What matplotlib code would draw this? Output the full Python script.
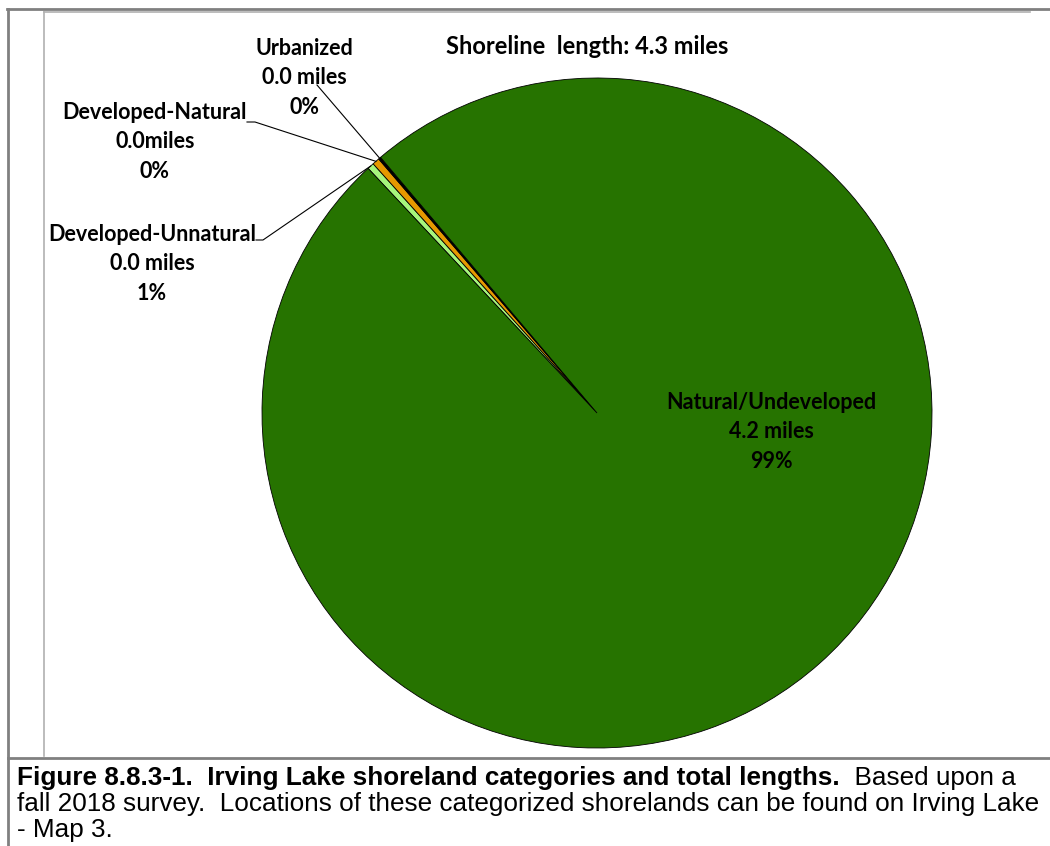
import matplotlib
matplotlib.use("Agg")
import matplotlib.pyplot as plt
from matplotlib.lines import Line2D
import numpy as np

# shoreline categories (clockwise order from the start angle)
categories = ["Developed-Unnatural", "Developed-Natural", "Urbanized", "Natural/Undeveloped"]
miles = [0.014, 0.015, 0.005, 4.27]
colors = ["#a6f57c", "#e69800", "#000000", "#267300"]
label_texts = {
    "Developed-Unnatural": "Developed-Unnatural\n0.0 miles\n1%",
    "Developed-Natural": "Developed-Natural\n0.0miles\n0%",
    "Urbanized": "Urbanized\n0.0 miles\n0%",
    "Natural/Undeveloped": "Natural/Undeveloped\n4.2 miles\n99%",
}
total_label = "Shoreline  length: 4.3 miles"
caption_bold = "Figure 8.8.3-1.  Irving Lake shoreland categories and total lengths."
caption_rest = "  Based upon a"
caption_lines = ["fall 2018 survey.  Locations of these categorized shorelands can be found on Irving Lake",
                 "- Map 3."]

W, H = 1050, 846
fig = plt.figure(figsize=(W / 100, H / 100), dpi=100)
fig.patch.set_facecolor("white")


def fx(x):
    return x / W


def fy(y):
    return 1 - y / H


# pie axes (square box in pixels)
cx, cy, r = 597, 413, 335
ax = fig.add_axes([fx(cx - r), fy(cy + r), 2 * r / W, 2 * r / H])
ax.axis("off")

start = 133.1
wedges, _ = ax.pie(miles, colors=colors, startangle=start, counterclock=False, radius=1,
                   wedgeprops=dict(edgecolor="black", linewidth=0.6))
ax.set_xlim(-1, 1)
ax.set_ylim(-1, 1)

lab_font = dict(family="Lato", weight="bold", size=15.5, color="black")

# label positions in pixels (text centre)
label_pos = {
    "Urbanized": (304, 78),
    "Developed-Natural": (155, 142),
    "Developed-Unnatural": (152, 264),
    "Natural/Undeveloped": (771, 432),
}
for cat, w in zip(categories, wedges):
    x, y = label_pos[cat]
    fig.text(fx(x), fy(y), label_texts[cat], ha="center", va="center",
             linespacing=1.5, **lab_font)


# leader lines to wedge edges
def edge_point(w):
    mid = np.deg2rad((w.theta1 + w.theta2) / 2)
    return np.cos(mid), np.sin(mid)


leaders = {
    "Urbanized": [(317, 85)],
    "Developed-Natural": [(247, 122), (255, 122)],
    "Developed-Unnatural": [(256, 240), (263, 240)],
}
for cat, w in zip(categories, wedges):
    if cat not in leaders:
        continue
    ex, ey = edge_point(w)
    px = cx + ex * r
    py = cy - ey * r
    pts = leaders[cat] + [(px, py)]
    fig.add_artist(Line2D([fx(p[0]) for p in pts], [fy(p[1]) for p in pts],
                          color="black", linewidth=0.8))

fig.text(fx(587), fy(47), total_label, ha="center", va="center",
         family="Lato", weight="bold", size=17)

# frame lines
frame_col = "#808080"
fig.add_artist(Line2D([fx(7), fx(W)], [fy(9), fy(9)], color=frame_col, linewidth=2))
fig.add_artist(Line2D([fx(8), fx(8)], [fy(9), fy(H)], color=frame_col, linewidth=2))
fig.add_artist(Line2D([fx(8), fx(W)], [fy(757.5), fy(757.5)], color=frame_col, linewidth=2))
fig.add_artist(Line2D([fx(43.5), fx(1030)], [fy(12), fy(12)], color="#b0b0b0", linewidth=1.2))
fig.add_artist(Line2D([fx(43.5), fx(43.5)], [fy(12), fy(756)], color="#b0b0b0", linewidth=1.2))

# caption: size the font so the second line spans the cell width as in the original
renderer = fig.canvas.get_renderer()
probe = fig.text(0, 0, caption_lines[0], family="Liberation Sans", size=10)
probe_w = probe.get_window_extent(renderer=renderer).width
probe.remove()
cap_size = 10 * 1026 / probe_w
cap_font = dict(family="Liberation Sans", size=cap_size, color="black")

t = fig.text(fx(17), fy(778), caption_bold, ha="left", va="center", weight="bold", **cap_font)
bb = t.get_window_extent(renderer=renderer)
fig.text(bb.x1 / W, fy(778), caption_rest, ha="left", va="center", **cap_font)
for i, line in enumerate(caption_lines):
    fig.text(fx(17), fy(804 + 26 * i), line, ha="left", va="center", **cap_font)

fig.savefig("out.png", dpi=100, facecolor="white")
